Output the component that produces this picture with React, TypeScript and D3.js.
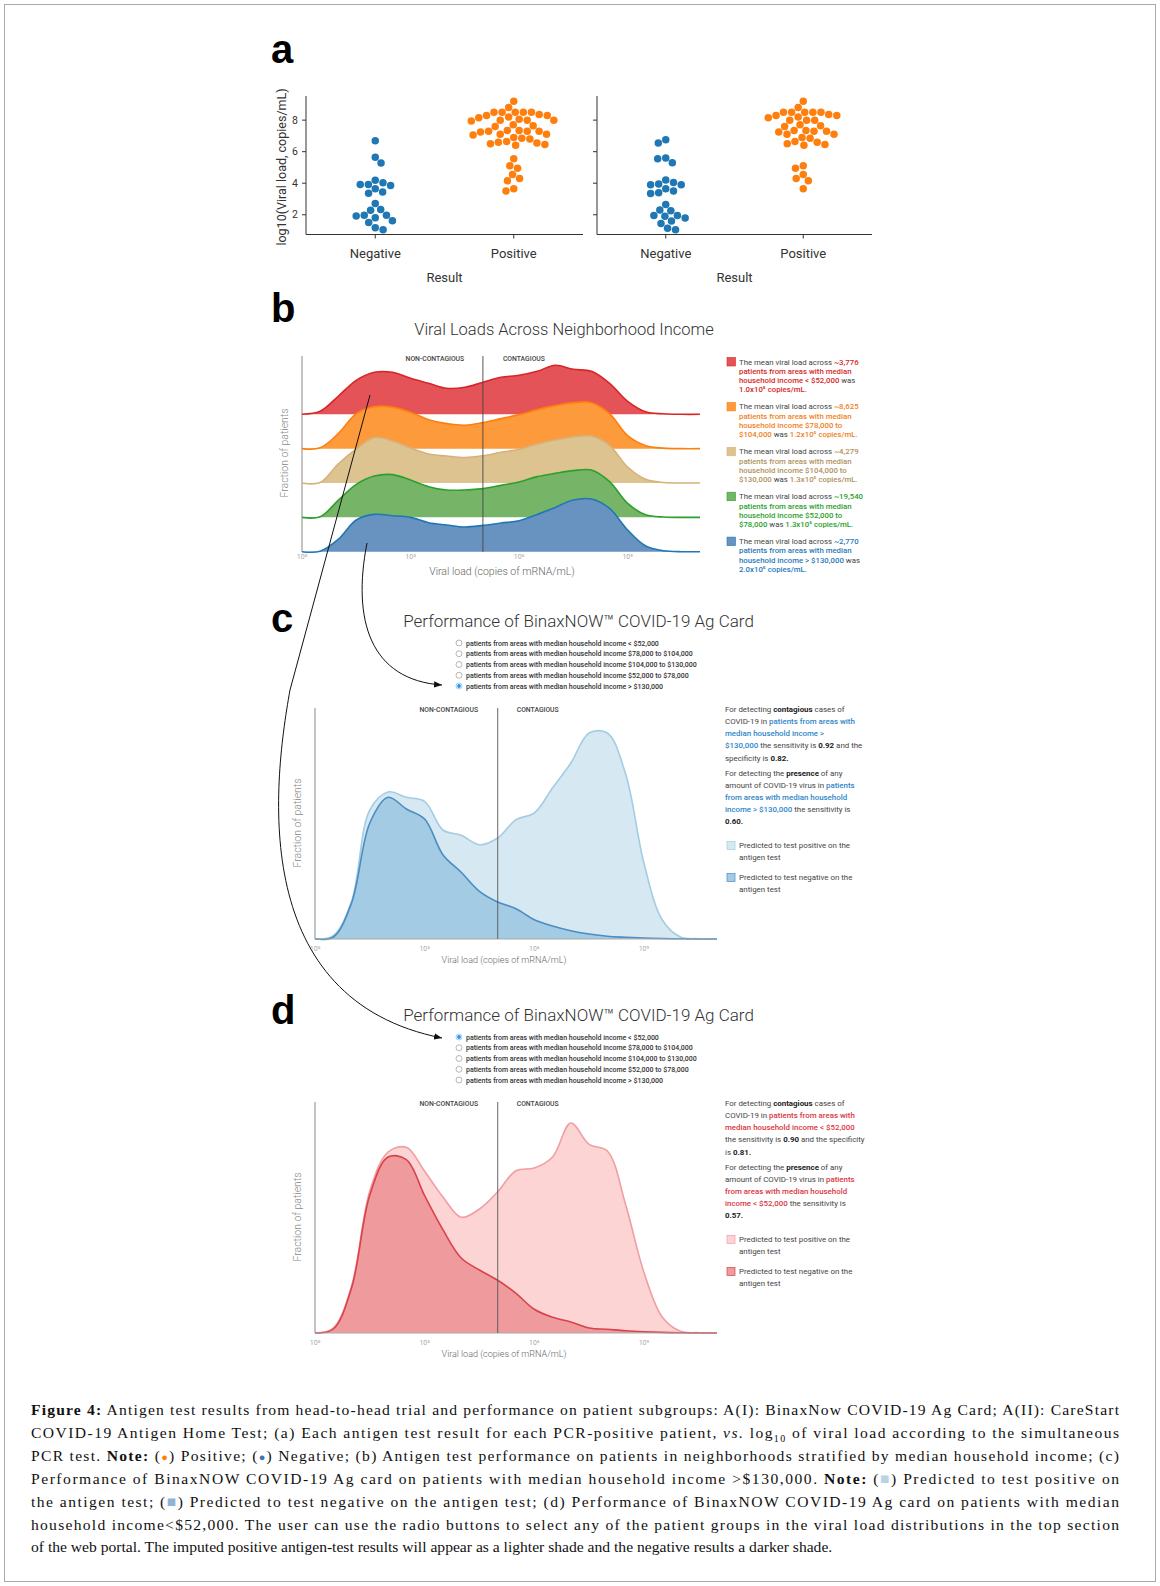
import * as d3 from "d3";

const FONT = "Roboto, 'Liberation Sans', Arial, sans-serif";
const LETTER_FONT = "'Liberation Sans', Arial, sans-serif";
const SERIF = "'Liberation Serif', 'Times New Roman', serif";

// ---------- panel a: swarm of antigen results vs log10 viral load ----------
const RESULT_CATEGORIES = ["Negative", "Positive"];
const A_TICKS = [2, 4, 6, 8];
const BINAX_NEGATIVE = [6.7, 5.64, 5.28, 4.19, 4.03, 3.92, 3.86, 3.92, 3.65, 3.44, 3.36, 2.71, 2.33, 2.29, 1.97, 1.92, 1.97, 1.81, 1.62, 1.51, 1.18, 1.05];
const BINAX_POSITIVE = [
  9.2, 8.8, 8.5, 8.5, 8.5, 8.5, 8.5, 8.35, 8.3, 8.3, 8.2, 8.15, 8.05, 8.0, 8.0, 8.0, 7.95, 7.7, 7.65, 7.6,
  7.35, 7.35, 7.3, 7.3, 7.3, 7.25, 7.1, 7.1, 7.05, 6.9, 6.85, 6.8, 6.65, 6.6, 6.55, 6.5, 6.45, 6.4,
  5.55, 5.1, 4.95, 4.55, 4.3, 4.15, 3.65, 3.5,
];
const CARESTART_NEGATIVE = [6.75, 6.55, 5.6, 5.55, 5.3, 4.2, 4.05, 3.95, 3.9, 3.9, 3.65, 3.5, 3.4, 3.35, 2.65, 2.3, 2.25, 1.95, 1.95, 1.9, 1.8, 1.6, 1.45, 1.15, 1.05];
const CARESTART_POSITIVE = [
  9.2, 8.8, 8.5, 8.5, 8.5, 8.5, 8.5, 8.35, 8.3, 8.3, 8.2, 8.15, 8.0, 8.0, 8.0, 7.7, 7.65, 7.6,
  7.35, 7.35, 7.3, 7.3, 7.25, 7.1, 7.1, 6.9, 6.85, 6.65, 6.6, 6.5, 6.45, 6.4,
  5.1, 4.95, 4.55, 4.3, 4.15, 3.65,
];

// ---------- panel b: ridgeline densities over log10 viral load ----------
const LOG_GRID = [0, 0.5, 1, 1.5, 2, 2.5, 3, 3.5, 4, 4.5, 5, 5.5, 6, 6.5, 7, 7.5, 8, 8.5, 9, 9.5, 10, 10.5, 11];
const DECADE_TICKS = [0, 3, 6, 9];
const DECADE_LABELS = ["10⁰", "10³", "10⁶", "10⁹"];
const CONTAGIOUS_CUTOFF = 5;

const INCOME_GROUPS = ["< $52,000", "$78,000 to $104,000", "$104,000 to $130,000", "$52,000 to $78,000", "> $130,000"];
const RIDGE_LT52K = [0, 3, 18, 34, 42, 42, 36, 31, 26, 27, 32, 37, 39, 43, 49, 45, 43, 31, 13, 2.5, 0.5, 0, 0];
const RIDGE_78_104K = [0, 0.8, 15, 35, 42, 41.5, 36.5, 29, 25, 23.3, 26, 30, 34, 39, 43, 46, 46, 35, 13, 3, 0.5, 0, 0];
const RIDGE_104_130K = [0, 0.5, 19, 34, 45.5, 42, 35, 29, 27, 25.5, 27.3, 30.7, 33.7, 39, 43, 46, 47, 37.7, 16, 3.7, 0.5, 0, 0];
const RIDGE_52_78K = [0, 0.5, 17, 33, 41.3, 42.7, 37.3, 30.7, 27.3, 27.3, 28.7, 32, 35.3, 40.7, 44, 46.7, 47.3, 35.7, 14, 2.5, 0.3, 0, 0];
const RIDGE_GT130K = [0, 0.5, 12.3, 31.7, 37.3, 36, 34.3, 29, 26.7, 24.7, 26.3, 28.7, 31, 37.3, 44.3, 51.7, 52.7, 43.3, 21.7, 5.7, 1, 0, 0];
const RIDGES = [RIDGE_LT52K, RIDGE_78_104K, RIDGE_104_130K, RIDGE_52_78K, RIDGE_GT130K];

const RIDGE_FILL = ["#e35357", "#fd9a3c", "#dcc38f", "#76b467", "#6893c1"];
const RIDGE_STROKE = ["#d62728", "#ff7f0e", "#d6b27a", "#2ca02c", "#1f77b4"];
const LEGEND_TEXT = ["#d62728", "#f0811a", "#b0925e", "#2ca02c", "#2a7ab8"];

const PATIENT_COUNTS = ["~3,776", "~8,625", "~4,279", "~19,540", "~2,770"];
const MEAN_LOADS = ["1.0x10⁵", "1.2x10⁵", "1.3x10⁵", "1.3x10⁵", "2.0x10⁵"];
const INCOME_LINE3 = ["household income < $52,000", "household income $78,000 to", "household income $104,000 to", "household income $52,000 to", "household income > $130,000"];
const INCOME_LINE4 = ["", "$104,000", "$130,000", "$78,000", ""];

// ---------- panels c / d: predicted positive (total) vs negative ----------
const GT130K_TOTAL = [0, 3.3, 37.7, 129, 147, 141.7, 137.7, 109, 103.7, 94.3, 101, 119.3, 126, 151, 176, 206, 206, 165, 76, 19.3, 2, 0.3, 0];
const GT130K_NEGATIVE = [0, 2, 36, 116, 141.7, 130, 120, 84.3, 66.7, 47.7, 37, 30.3, 19.3, 13, 8.3, 5, 2.7, 1.7, 1, 0.5, 0.2, 0, 0];
const LT52K_TOTAL = [0, 5, 47, 142, 181, 185.7, 161.7, 136, 115.7, 124, 141.3, 162.3, 165, 176, 210, 188.7, 182, 128.3, 60.7, 16, 1.7, 0.3, 0];
const LT52K_NEGATIVE = [0, 4, 45, 138, 176, 173.3, 137.3, 103.3, 75, 63, 52.7, 39.7, 23.7, 15.7, 11, 5, 3.7, 2.3, 1.3, 0.6, 0.2, 0, 0];

const RADIO_OPTIONS = [
  "patients from areas with median household income < $52,000",
  "patients from areas with median household income $78,000 to $104,000",
  "patients from areas with median household income $104,000 to $130,000",
  "patients from areas with median household income $52,000 to $78,000",
  "patients from areas with median household income > $130,000",
];

type Seg = { t: string; a?: boolean; b?: boolean };

const C_LEGEND: Seg[][] = [
  [{ t: "For detecting " }, { t: "contagious", b: true }, { t: " cases of" }],
  [{ t: "COVID-19 in " }, { t: "patients from areas with", a: true }],
  [{ t: "median household income >", a: true }],
  [{ t: "$130,000", a: true }, { t: " the sensitivity is " }, { t: "0.92", b: true }, { t: " and the" }],
  [{ t: "specificity is " }, { t: "0.82.", b: true }],
  [{ t: "For detecting the " }, { t: "presence", b: true }, { t: " of any" }],
  [{ t: "amount of COVID-19 virus in " }, { t: "patients", a: true }],
  [{ t: "from areas with median household", a: true }],
  [{ t: "income > $130,000", a: true }, { t: " the sensitivity is" }],
  [{ t: "0.60.", b: true }],
];
const D_LEGEND: Seg[][] = [
  [{ t: "For detecting " }, { t: "contagious", b: true }, { t: " cases of" }],
  [{ t: "COVID-19 in " }, { t: "patients from areas with", a: true }],
  [{ t: "median household income < $52,000", a: true }],
  [{ t: "the sensitivity is " }, { t: "0.90", b: true }, { t: " and the specificity" }],
  [{ t: "is " }, { t: "0.81.", b: true }],
  [{ t: "For detecting the " }, { t: "presence", b: true }, { t: " of any" }],
  [{ t: "amount of COVID-19 virus in " }, { t: "patients", a: true }],
  [{ t: "from areas with median household", a: true }],
  [{ t: "income < $52,000", a: true }, { t: " the sensitivity is" }],
  [{ t: "0.57.", b: true }],
];

// ---------- helpers ----------
const CURVE = d3.curveCatmullRom.alpha(0.5);

const swarmLayout = (values: number[], y: (v: number) => number, r: number) => {
  const d = 2 * r + 0.6;
  const pts = values.map((v) => ({ v, py: y(v) })).sort((p, q) => p.py - q.py);
  const placed: { x: number; y: number }[] = [];
  pts.forEach((p, k) => {
    const cands = [0];
    placed.forEach((q) => {
      const dy = p.py - q.y;
      if (Math.abs(dy) < d) {
        const dx = Math.sqrt(d * d - dy * dy);
        cands.push(q.x + dx, q.x - dx);
      }
    });
    cands.sort((m, n) => Math.abs(m) - Math.abs(n) || (k % 2 ? m - n : n - m));
    const ok = cands.find((c) => placed.every((q) => (c - q.x) ** 2 + (p.py - q.y) ** 2 >= d * d - 0.01));
    placed.push({ x: ok ?? 0, y: p.py });
  });
  return placed;
};

const RichLine = ({ x, y, segs, accent, size }: { x: number; y: number; segs: Seg[]; accent: string; size: number }) => (
  <text x={x} y={y} fontFamily={FONT} fontSize={size} fill="#444">
    {segs.map((s, i) => (
      <tspan key={i} fill={s.a ? accent : s.b ? "#222" : "#444"} fontWeight={s.b ? 700 : s.a ? 500 : 400}>
        {s.t}
      </tspan>
    ))}
  </text>
);

// ---------- panel a ----------
const SwarmPanel = ({ left, right, neg, pos, showLabels }: { left: number; right: number; neg: number[]; pos: number[]; showLabels: boolean }) => {
  const y = d3.scaleLinear().domain([0.78, 9.53]).range([234, 96]);
  const x = d3.scaleLinear().domain([-0.5, 1.5]).range([left, right]);
  const r = 3.75;
  const groups = [
    { vals: neg, color: "#1f77b4", cx: x(0) },
    { vals: pos, color: "#ff7f0e", cx: x(1) },
  ];
  return (
    <g fontFamily={FONT}>
      {groups.map((g, gi) =>
        swarmLayout(g.vals, y, r).map((p, i) => <circle key={`${gi}-${i}`} cx={g.cx + p.x} cy={p.y} r={r} fill={g.color} />)
      )}
      <line x1={left} x2={left} y1={96} y2={234.5} stroke="#333" strokeWidth={1} />
      <line x1={left} x2={right} y1={234.5} y2={234.5} stroke="#333" strokeWidth={1} />
      {A_TICKS.map((t) => (
        <g key={t}>
          <line x1={left - 4} x2={left} y1={y(t)} y2={y(t)} stroke="#333" />
          {showLabels && (
            <text x={left - 8} y={y(t) + 3.5} textAnchor="end" fontSize={10.5} fill="#333">
              {t}
            </text>
          )}
        </g>
      ))}
      {RESULT_CATEGORIES.map((c, i) => (
        <g key={c}>
          <line x1={x(i)} x2={x(i)} y1={234.5} y2={238.5} stroke="#333" />
          <text x={x(i)} y={258} textAnchor="middle" fontSize={13} fill="#333">
            {c}
          </text>
        </g>
      ))}
      <text x={(left + right) / 2} y={282} textAnchor="middle" fontSize={13} fill="#333">
        Result
      </text>
    </g>
  );
};

// ---------- panel b ----------
const RidgePanel = () => {
  const x = d3.scaleLinear().domain([0, 11]).range([302, 700]);
  const base = d3.scalePoint<string>().domain(INCOME_GROUPS).range([414.3, 551.7]);
  const h = d3.scaleLinear().domain([0, 50]).range([0, 50]);
  return (
    <g fontFamily={FONT}>
      <text x={564} y={335} textAnchor="middle" fontSize={16.5} fontWeight={300} fill="#333">
        Viral Loads Across Neighborhood Income
      </text>
      <line x1={302} x2={302} y1={356} y2={552} stroke="#888" />
      {RIDGES.map((vals, i) => {
        const b = base(INCOME_GROUPS[i]) as number;
        const area = d3
          .area<number>()
          .x((_, k) => x(LOG_GRID[k]))
          .y0(b)
          .y1((v) => b - h(v))
          .curve(CURVE);
        const line = d3
          .line<number>()
          .x((_, k) => x(LOG_GRID[k]))
          .y((v) => b - h(v))
          .curve(CURVE);
        return (
          <g key={i}>
            <path d={area(vals) ?? ""} fill={RIDGE_FILL[i]} />
            <path d={line(vals) ?? ""} fill="none" stroke={RIDGE_STROKE[i]} strokeWidth={1.6} />
          </g>
        );
      })}
      <line x1={x(CONTAGIOUS_CUTOFF)} x2={x(CONTAGIOUS_CUTOFF)} y1={356} y2={552} stroke="#444" strokeWidth={0.9} />
      <text x={x(CONTAGIOUS_CUTOFF) - 48} y={361} textAnchor="middle" fontSize={6.8} fontWeight={500} fill="#444">
        NON-CONTAGIOUS
      </text>
      <text x={x(CONTAGIOUS_CUTOFF) + 41} y={361} textAnchor="middle" fontSize={6.8} fontWeight={500} fill="#444">
        CONTAGIOUS
      </text>
      {DECADE_TICKS.map((t, i) => (
        <text key={t} x={x(t)} y={559} textAnchor="middle" fontSize={7} fill="#aaa">
          {DECADE_LABELS[i]}
        </text>
      ))}
      <text x={502} y={575} textAnchor="middle" fontSize={10.5} fontWeight={300} fill="#666">
        Viral load (copies of mRNA/mL)
      </text>
      <text transform={`translate(288,453) rotate(-90)`} textAnchor="middle" fontSize={10.5} fontWeight={300} fill="#888">
        Fraction of patients
      </text>
      {INCOME_GROUPS.map((g, i) => {
        const top = 364.5 + i * 44.9;
        const lh = 9.3;
        const c = LEGEND_TEXT[i];
        return (
          <g key={g} fontSize={7.8}>
            <rect x={727} y={top - 7} width={8.5} height={8.5} fill={RIDGE_FILL[i]} stroke={RIDGE_STROKE[i]} strokeWidth={0.6} />
            <text x={739} y={top} fill="#444">
              The mean viral load across{" "}
              <tspan fill={c} fontWeight={500}>{PATIENT_COUNTS[i]}</tspan>
            </text>
            <text x={739} y={top + lh} fill={c} fontWeight={500}>
              patients from areas with median
            </text>
            <text x={739} y={top + 2 * lh} fill={c} fontWeight={500}>
              {INCOME_LINE3[i]}
              {INCOME_LINE4[i] === "" && <tspan fill="#444" fontWeight={400}> was</tspan>}
            </text>
            <text x={739} y={top + 3 * lh} fill={c} fontWeight={500}>
              {INCOME_LINE4[i] !== "" && (
                <>
                  {INCOME_LINE4[i]}
                  <tspan fill="#444" fontWeight={400}> was </tspan>
                </>
              )}
              <tspan>{`${MEAN_LOADS[i]} copies/mL.`}</tspan>
            </text>
          </g>
        );
      })}
    </g>
  );
};

// ---------- panels c / d ----------
type PerfProps = {
  off: number;
  total: number[];
  negative: number[];
  selected: number;
  accent: string;
  lightFill: string;
  lightStroke: string;
  darkFill: string;
  darkStroke: string;
  legend: Seg[][];
};

const PerformancePanel = ({ off, total, negative, selected, accent, lightFill, lightStroke, darkFill, darkStroke, legend }: PerfProps) => {
  const x = d3.scaleLinear().domain([0, 11]).range([315, 717]);
  const y = d3.scaleLinear().domain([0, 231]).range([939 + off, 708 + off]);
  const area = d3
    .area<number>()
    .x((_, k) => x(LOG_GRID[k]))
    .y0(y(0))
    .y1((v) => y(v))
    .curve(CURVE);
  const line = d3
    .line<number>()
    .x((_, k) => x(LOG_GRID[k]))
    .y((v) => y(v))
    .curve(CURVE);
  const fs = 7.9;
  return (
    <g fontFamily={FONT}>
      <text x={578.5} y={626.5 + off} textAnchor="middle" fontSize={17} fontWeight={300} fill="#333">
        Performance of BinaxNOW™ COVID-19 Ag Card
      </text>
      {RADIO_OPTIONS.map((o, i) => {
        const cy = 643 + off + i * 10.75;
        return (
          <g key={o}>
            {i === selected ? (
              <>
                <circle cx={459} cy={cy} r={3} fill="#fff" stroke="#8fc3ef" strokeWidth={0.8} />
                <circle cx={459} cy={cy} r={1.9} fill="#2196f3" />
              </>
            ) : (
              <circle cx={459} cy={cy} r={3} fill="#fff" stroke="#999" strokeWidth={0.7} />
            )}
            <text x={466} y={cy + 2.5} fontSize={7} fontWeight={500} fill="#333">
              {o}
            </text>
          </g>
        );
      })}
      <path d={area(total) ?? ""} fill={lightFill} />
      <path d={line(total) ?? ""} fill="none" stroke={lightStroke} strokeWidth={1.6} />
      <path d={area(negative) ?? ""} fill={darkFill} />
      <path d={line(negative) ?? ""} fill="none" stroke={darkStroke} strokeWidth={1.6} />
      <line x1={315} x2={315} y1={y(231)} y2={y(0)} stroke="#888" strokeWidth={1} />
      <line x1={315} x2={717} y1={y(0)} y2={y(0)} stroke="#aaa" strokeWidth={1.2} />
      <line x1={x(CONTAGIOUS_CUTOFF)} x2={x(CONTAGIOUS_CUTOFF)} y1={y(231)} y2={y(0)} stroke="#555" strokeWidth={0.9} />
      <text x={x(CONTAGIOUS_CUTOFF) - 49} y={712 + off} textAnchor="middle" fontSize={6.8} fontWeight={500} fill="#444">
        NON-CONTAGIOUS
      </text>
      <text x={x(CONTAGIOUS_CUTOFF) + 40} y={712 + off} textAnchor="middle" fontSize={6.8} fontWeight={500} fill="#444">
        CONTAGIOUS
      </text>
      {DECADE_TICKS.map((t, i) => (
        <text key={t} x={x(t)} y={951 + off} textAnchor="middle" fontSize={7} fill="#aaa">
          {DECADE_LABELS[i]}
        </text>
      ))}
      <text x={504} y={963 + off} textAnchor="middle" fontSize={9} fontWeight={300} fill="#666">
        Viral load (copies of mRNA/mL)
      </text>
      <text transform={`translate(301,${823 + off}) rotate(-90)`} textAnchor="middle" fontSize={10.5} fontWeight={300} fill="#888">
        Fraction of patients
      </text>
      {legend.map((segs, i) => (
        <RichLine key={i} x={725} y={711.8 + off + i * 12.2 + (i >= 5 ? 2.8 : 0)} segs={segs} accent={accent} size={fs} />
      ))}
      <rect x={727} y={841.5 + off} width={8} height={8} fill={lightFill} stroke={lightStroke} strokeWidth={0.7} />
      <text x={739} y={847.8 + off} fontSize={fs} fill="#444">
        Predicted to test positive on the
      </text>
      <text x={739} y={860 + off} fontSize={fs} fill="#444">
        antigen test
      </text>
      <rect x={727} y={873.5 + off} width={8} height={8} fill={darkFill} stroke={darkStroke} strokeWidth={0.7} />
      <text x={739} y={880 + off} fontSize={fs} fill="#444">
        Predicted to test negative on the
      </text>
      <text x={739} y={892 + off} fontSize={fs} fill="#444">
        antigen test
      </text>
    </g>
  );
};

// ---------- caption ----------
const Caption = () => {
  const x0 = 31;
  const w = 1088;
  const y0 = 1415;
  const lh = 22.9;
  const sz = 15.6;
  const B = ({ children }: { children: string }) => <tspan fontWeight={700}>{children}</tspan>;
  return (
    <g fontFamily={SERIF} fontSize={sz} fill="#111">
      <text x={x0} y={y0} textLength={w} lengthAdjust="spacing">
        <B>Figure 4:</B> Antigen test results from head-to-head trial and performance on patient subgroups: A(I): BinaxNow COVID-19 Ag Card; A(II): CareStart
      </text>
      <text x={x0} y={y0 + lh} textLength={w} lengthAdjust="spacing">
        COVID-19 Antigen Home Test; (a) Each antigen test result for each PCR-positive patient, <tspan fontStyle="italic">vs.</tspan> log
        <tspan fontSize={10} dy={4}>10</tspan>
        <tspan dy={-4}> of viral load according to the simultaneous</tspan>
      </text>
      <text x={x0} y={y0 + 2 * lh} textLength={w} lengthAdjust="spacing">
        PCR test. <B>Note:</B> (<tspan fill="#ff7f0e" fontSize={11}>●</tspan>) Positive; (<tspan fill="#3d74b6" fontSize={11}>●</tspan>) Negative; (b) Antigen test performance on patients in neighborhoods stratified by median household income; (c)
      </text>
      <text x={x0} y={y0 + 3 * lh} textLength={w} lengthAdjust="spacing">
        Performance of BinaxNOW COVID-19 Ag card on patients with median household income {">"}$130,000. <B>Note:</B> (<tspan fill="#b9d3e6">■</tspan>) Predicted to test positive on
      </text>
      <text x={x0} y={y0 + 4 * lh} textLength={w} lengthAdjust="spacing">
        the antigen test; (<tspan fill="#8fb3d3">■</tspan>) Predicted to test negative on the antigen test; (d) Performance of BinaxNOW COVID-19 Ag card on patients with median
      </text>
      <text x={x0} y={y0 + 5 * lh} textLength={w} lengthAdjust="spacing">
        household income{"<"}$52,000. The user can use the radio buttons to select any of the patient groups in the viral load distributions in the top section
      </text>
      <text x={x0} y={y0 + 6 * lh}>
        of the web portal. The imputed positive antigen-test results will appear as a lighter shade and the negative results a darker shade.
      </text>
    </g>
  );
};

export default function App() {
  return (
    <svg
      width={1160}
      height={1586}
      viewBox="0 0 1160 1586"
      style={{ position: "absolute", left: 0, top: 0, background: "#fff" }}
    >
      <defs>
        <marker id="arrowHead" viewBox="0 0 10 8" refX={10} refY={4} markerWidth={8} markerHeight={6.4} orient="auto" markerUnits="userSpaceOnUse">
          <path d="M0,0 L10,4 L0,8 z" fill="#111" />
        </marker>
      </defs>
      <rect x={4.5} y={4.5} width={1151} height={1577} fill="#fff" stroke="#aaa" strokeWidth={1} />

      {/* panel letters */}
      {[
        ["a", 63],
        ["b", 322],
        ["c", 632],
        ["d", 1024],
      ].map(([l, yy]) => (
        <text key={l as string} x={271} y={yy as number} fontFamily={LETTER_FONT} fontWeight={700} fontSize={40} fill="#000">
          {l}
        </text>
      ))}

      {/* panel a */}
      <text transform="translate(286,167) rotate(-90)" textAnchor="middle" fontFamily={FONT} fontSize={12.5} fill="#333">
        log10(Viral load, copies/mL)
      </text>
      <SwarmPanel left={306} right={583} neg={BINAX_NEGATIVE} pos={BINAX_POSITIVE} showLabels />
      <SwarmPanel left={597} right={872} neg={CARESTART_NEGATIVE} pos={CARESTART_POSITIVE} showLabels={false} />

      {/* panel b */}
      <RidgePanel />

      {/* panel c */}
      <PerformancePanel
        off={0}
        total={GT130K_TOTAL}
        negative={GT130K_NEGATIVE}
        selected={4}
        accent="#2f86c8"
        lightFill="#d6e8f1"
        lightStroke="#a4cce3"
        darkFill="#a3cbe3"
        darkStroke="#4a8dc2"
        legend={C_LEGEND}
      />

      {/* panel d */}
      <PerformancePanel
        off={394}
        total={LT52K_TOTAL}
        negative={LT52K_NEGATIVE}
        selected={0}
        accent="#d9363e"
        lightFill="#fdd4d4"
        lightStroke="#ef9ea2"
        darkFill="#ef9b9d"
        darkStroke="#d8434b"
        legend={D_LEGEND}
      />

      {/* connector arrows from panel b into c and d */}
      <path d="M370,395 L290,690 C272,790 250,1000 442,1038" fill="none" stroke="#111" strokeWidth={1} markerEnd="url(#arrowHead)" />
      <path d="M367,543 C352,620 370,680 442,685" fill="none" stroke="#111" strokeWidth={1} markerEnd="url(#arrowHead)" />

      <Caption />
    </svg>
  );
}
